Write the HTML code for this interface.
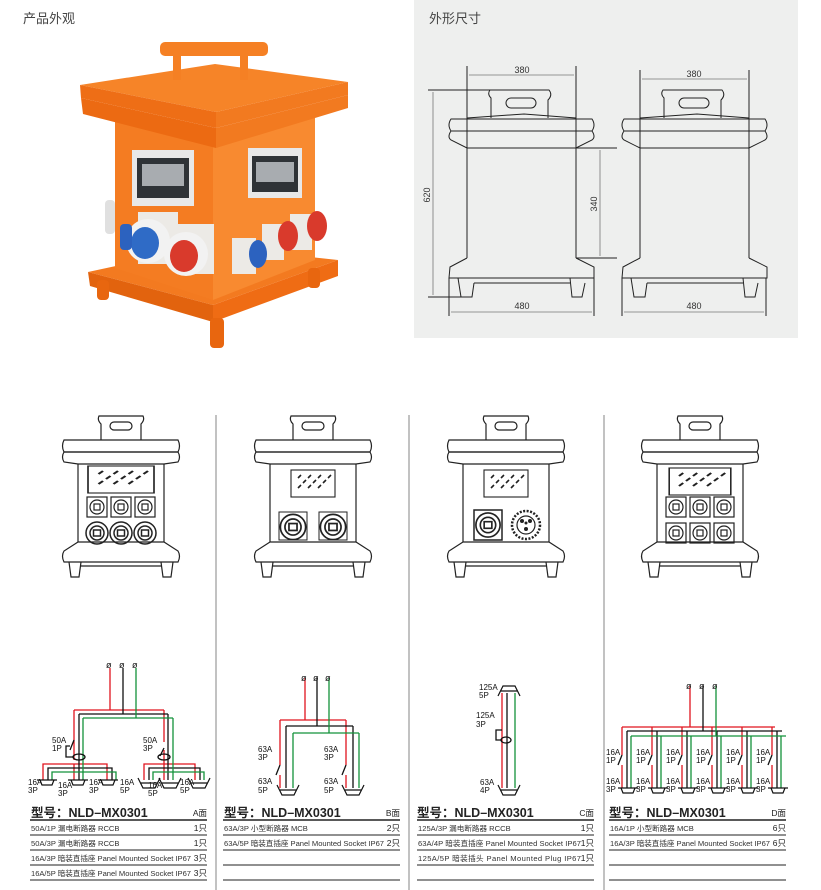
<!DOCTYPE html>
<html><head><meta charset="utf-8">
<style>
html,body{margin:0;padding:0;background:#fff;}
svg{display:block;}
text{font-family:"Liberation Sans","Noto Sans CJK SC",sans-serif;}
</style></head>
<body>
<svg width="821" height="890" viewBox="0 0 821 890" xmlns="http://www.w3.org/2000/svg">
<defs>
  <g id="elev" fill="none" stroke="#222" stroke-width="1.2">
    <path d="M-20,440 L-20,424 Q-24,420 -22,416 L22,416 Q24,420 20,424 L20,440"/>
    <rect x="-11" y="422" width="22" height="8" rx="4"/>
    <path d="M-57,440 L57,440 Q60,446 57,452 L-57,452 Q-60,446 -57,440 Z"/>
    <path d="M-57,452 L57,452 Q60,457 57,462 L43,464 L-43,464 L-57,462 Q-60,457 -57,452 Z"/>
    <path d="M-43,464 L-43,542 M43,464 L43,542"/>
    <path d="M-43,542 L-57,551 Q-60,556 -57,562 L57,562 Q60,556 57,551 L43,542 Z"/>
    <path d="M-52,562 L-50,577 L-42,577 L-40,562 M52,562 L50,577 L42,577 L40,562 M-40,566 L40,566"/>
  </g>
  <g id="win" fill="none" stroke="#222" stroke-width="1.1">
    <rect x="-22" y="0" width="44" height="27"/>
    <path d="M-15,8 l3,-3 M-5,8 l3,-3 M5,8 l3,-3 M15,8 l3,-3 M-15,18 l3,-3 M-5,18 l3,-3 M5,18 l3,-3 M-10,13 l3,-3 M0,13 l3,-3 M10,13 l3,-3" stroke-width="1.6"/>
  </g>
  <g id="sq" fill="none" stroke="#222" stroke-width="1.2">
    <rect x="-10" y="-10" width="20" height="20"/>
    <circle r="7"/><rect x="-3" y="-3" width="6" height="6"/>
  </g>
  <g id="rd" fill="none" stroke="#222" stroke-width="1.5">
    <circle r="11"/><circle r="7"/><rect x="-3.5" y="-3" width="7" height="6"/>
  </g>
  <g id="sk" fill="none" stroke="#111" stroke-width="1.2">
    <path d="M-10,0 L10,0 M-7,0 L-5,5 L5,5 L7,0"/>
  </g>
  <g id="sk5" fill="none" stroke="#111" stroke-width="1.2">
    <path d="M-11,-5 L-6,5 L6,5 L11,-5 M-8,0 L8,0"/>
  </g>
</defs>

<text x="23" y="23" font-size="13" fill="#444">产品外观</text>
<rect x="414" y="0" width="384" height="338" fill="#eeefee"/>
<text x="429" y="23" font-size="13" fill="#444">外形尺寸</text>

<g>
  <polygon points="88,272 208,246 338,260 213,305" fill="#f37a20"/>
  <polygon points="88,272 213,305 213,322 90,286" fill="#e2630e"/>
  <polygon points="213,305 338,260 338,276 213,322" fill="#ef6c14"/>
  <rect x="97" y="280" width="12" height="20" rx="4" fill="#e8660f"/>
  <rect x="210" y="318" width="14" height="30" rx="4" fill="#e8660f"/>
  <rect x="308" y="268" width="12" height="20" rx="4" fill="#e8660f"/>
  <polygon points="115,118 213,140 213,300 115,268" fill="#f47c22"/>
  <polygon points="213,140 315,115 315,260 213,300" fill="#f88a30"/>
  <polygon points="80,85 215,64 348,82 216,112" fill="#f68428"/>
  <polygon points="80,85 216,112 216,128 81,98" fill="#ee6e16"/>
  <polygon points="216,112 348,82 348,95 216,128" fill="#f27a20"/>
  <polygon points="81,98 216,128 216,148 83,114" fill="#ec6a12"/>
  <polygon points="216,128 348,95 348,108 216,148" fill="#f27a20"/>
  <rect x="173" y="52" width="8" height="28" fill="#f58024"/>
  <rect x="240" y="52" width="8" height="28" fill="#f58024"/>
  <rect x="160" y="42" width="108" height="14" rx="5" fill="#f58024"/>
  <rect x="132" y="150" width="62" height="56" fill="#e8e8e8"/>
  <rect x="137" y="158" width="52" height="40" fill="#2f3337"/>
  <rect x="142" y="164" width="42" height="22" fill="#a8acb0"/>
  <rect x="248" y="148" width="54" height="50" fill="#e8e8e8"/>
  <rect x="252" y="156" width="46" height="36" fill="#2f3337"/>
  <rect x="256" y="162" width="38" height="20" fill="#a8acb0"/>
  <rect x="138" y="212" width="40" height="52" fill="#eceae6"/>
  <rect x="178" y="224" width="36" height="50" fill="#eceae6"/>
  <ellipse cx="148" cy="241" rx="22" ry="22" fill="#f2f2f2"/>
  <ellipse cx="145" cy="243" rx="14" ry="16" fill="#2f6bc6"/>
  <rect x="120" y="224" width="12" height="26" rx="4" fill="#2c62bf"/>
  <ellipse cx="186" cy="254" rx="22" ry="22" fill="#f2f2f2"/>
  <ellipse cx="184" cy="256" rx="14" ry="16" fill="#d93a2c"/>
  <rect x="232" y="238" width="24" height="36" fill="#eceae6"/>
  <rect x="262" y="224" width="22" height="36" fill="#eceae6"/>
  <rect x="290" y="214" width="22" height="36" fill="#eceae6"/>
  <ellipse cx="258" cy="254" rx="9" ry="14" fill="#2c62bf"/>
  <ellipse cx="288" cy="236" rx="10" ry="15" fill="#d93a2c"/>
  <ellipse cx="317" cy="226" rx="10" ry="15" fill="#d93a2c"/>
  <rect x="105" y="200" width="10" height="34" rx="4" fill="#e0e0e0"/>
</g>

<g fill="none" stroke="#222" stroke-width="1">
  <g id="dimbox">
    <path d="M491,118 L491,98 Q487,94 490,90 L549,90 Q553,95 548,100 L548,118"/>
    <rect x="506" y="98" width="30" height="10" rx="5"/>
    <path d="M467,118 L524,114 L576,118"/>
    <path d="M451,119 L592,119 Q596,125 592,131 L451,131 Q447,125 451,119 Z"/>
    <path d="M451,131 L592,131 Q596,137 592,140 L576,148 L467,148 L451,140 Q447,137 451,131 Z"/>
    <path d="M467,148 L467,258 M576,148 L576,258"/>
    <path d="M467,258 L450,267 L449,278 L594,278 L594,267 L576,258"/>
    <path d="M458,278 L461,297 L472,297 L474,283 M570,278 L572,297 L582,297 L585,283 M474,283 L570,283"/>
  </g>
  <use href="#dimbox" transform="translate(173,0)"/>
  <path d="M467,66 L467,148 M576,66 L576,148 M640,70 L640,150 M749,70 L749,150"/>
  <path d="M428,90 L491,90 M428,297 L461,297 M576,148 L617,148 M576,258 L617,258 M449,278 L449,316 M594,278 L594,316 M622,278 L622,316 M766,278 L766,316"/>
</g>
<g stroke="#777" stroke-width="0.8" fill="#777">
  <path d="M469,75 L574,75 M642,79 L747,79 M433,92 L433,295 M600,150 L600,256 M451,312 L592,312 M624,312 L764,312"/>
</g>
<g font-size="9" fill="#333" text-anchor="middle">
  <text x="522" y="73">380</text>
  <text x="694" y="77">380</text>
  <text x="522" y="309">480</text>
  <text x="694" y="309">480</text>
  <text transform="translate(430,195) rotate(-90)">620</text>
  <text transform="translate(597,204) rotate(-90)">340</text>
</g>

<g stroke="#999" stroke-width="1.2">
  <path d="M216,415 L216,890 M409,415 L409,890 M604,415 L604,890"/>
</g>

<use href="#elev" transform="translate(121,0)"/>
<use href="#win" transform="translate(121,466) scale(1.5,1)"/>
<use href="#sq" transform="translate(97,507)"/><use href="#sq" transform="translate(121,507)"/><use href="#sq" transform="translate(145,507)"/>
<use href="#rd" transform="translate(97,533)"/><use href="#rd" transform="translate(121,533)"/><use href="#rd" transform="translate(145,533)"/>

<use href="#elev" transform="translate(313,0)"/>
<use href="#win" transform="translate(313,470)"/>
<use href="#rd" transform="translate(293,527) scale(1.15)"/><use href="#rd" transform="translate(333,527) scale(1.15)"/>
<rect x="279" y="512" width="28" height="28" fill="none" stroke="#222"/>
<rect x="319" y="512" width="28" height="28" fill="none" stroke="#222"/>

<use href="#elev" transform="translate(506,0)"/>
<use href="#win" transform="translate(506,470)"/>
<rect x="474" y="510" width="28" height="30" fill="#fff" stroke="#222" stroke-width="1.5"/>
<use href="#rd" transform="translate(488,525) scale(1.1)"/>
<circle cx="526" cy="525" r="14" fill="none" stroke="#222" stroke-width="2.5" stroke-dasharray="2,1.5"/>
<circle cx="526" cy="525" r="9" fill="none" stroke="#222" stroke-width="1.2"/>
<circle cx="522" cy="521" r="2" fill="#222"/><circle cx="530" cy="521" r="2" fill="#222"/><circle cx="526" cy="529" r="2" fill="#222"/><circle cx="526" cy="523" r="1.5" fill="#222"/>

<use href="#elev" transform="translate(700,0)"/>
<use href="#win" transform="translate(700,468) scale(1.4,1)"/>
<use href="#sq" transform="translate(676,507)"/><use href="#sq" transform="translate(700,507)"/><use href="#sq" transform="translate(724,507)"/>
<use href="#sq" transform="translate(676,533)"/><use href="#sq" transform="translate(700,533)"/><use href="#sq" transform="translate(724,533)"/>

<g fill="none" stroke-width="1.3">
  <path stroke="#e0141e" d="M110,668 L110,710 M74,710 L164,710 M74,710 L74,760 M164,710 L164,742 M164,750 L164,780 M43,780 L43,764 L107,764 L107,780 M144,780 L144,764 L195,764 L195,780 M74,764 L74,780 M164,764 L164,780"/>
  <path stroke="#111" d="M123,668 L123,714 M79,714 L168,714 M79,714 L79,780 M168,714 L168,780 M48,780 L48,768 L112,768 L112,780 M149,780 L149,768 L200,768 L200,780"/>
  <path stroke="#13923a" d="M136,668 L136,718 M83,718 L173,718 M83,718 L83,780 M173,718 L173,780 M52,780 L52,772 L116,772 L116,780 M153,780 L153,772 L204,772 L204,780"/>
  <path stroke="#111" d="M74,740 L70,750 M70,746 L66,746 L66,757 L74,757 M164,748 L160,756"/>
  <ellipse cx="79" cy="757" rx="6" ry="3" stroke="#111"/>
  <ellipse cx="164" cy="757" rx="6" ry="3" stroke="#111"/>
</g>
<g font-size="9" fill="#111"><text x="106" y="668">ø</text><text x="119" y="668">ø</text><text x="132" y="668">ø</text></g>
<use href="#sk" transform="translate(47,780)"/><use href="#sk" transform="translate(78,780)"/><use href="#sk" transform="translate(108,780)"/>
<use href="#sk5" transform="translate(149,783)"/><use href="#sk5" transform="translate(170,783)"/><use href="#sk5" transform="translate(199,783)"/>
<g font-size="8" fill="#111">
  <text x="52" y="743">50A</text><text x="52" y="751">1P</text>
  <text x="143" y="743">50A</text><text x="143" y="751">3P</text>
  <text x="28" y="785">16A</text><text x="28" y="793">3P</text>
  <text x="58" y="788">16A</text><text x="58" y="796">3P</text>
  <text x="89" y="785">16A</text><text x="89" y="793">3P</text>
  <text x="120" y="785">16A</text><text x="120" y="793">5P</text>
  <text x="148" y="788">16A</text><text x="148" y="796">5P</text>
  <text x="180" y="785">16A</text><text x="180" y="793">5P</text>
</g>

<g fill="none" stroke-width="1.3">
  <path stroke="#e0141e" d="M305,678 L305,720 M280,720 L346,720 M280,720 L280,765 M280,775 L280,788 M346,720 L346,765 M346,775 L346,788"/>
  <path stroke="#111" d="M317,678 L317,726 M286,726 L353,726 M286,726 L286,788 M353,726 L353,788"/>
  <path stroke="#13923a" d="M329,678 L329,733 M293,733 L359,733 M293,733 L293,788 M359,733 L359,788"/>
  <path stroke="#111" d="M280,765 L276,775 M346,765 L342,775"/>
</g>
<g font-size="9" fill="#111"><text x="301" y="681">ø</text><text x="313" y="681">ø</text><text x="325" y="681">ø</text></g>
<use href="#sk5" transform="translate(288,790)"/><use href="#sk5" transform="translate(353,790)"/>
<g font-size="8" fill="#111">
  <text x="258" y="752">63A</text><text x="258" y="760">3P</text>
  <text x="324" y="752">63A</text><text x="324" y="760">3P</text>
  <text x="258" y="784">63A</text><text x="258" y="793">5P</text>
  <text x="324" y="784">63A</text><text x="324" y="793">5P</text>
</g>

<g fill="none" stroke-width="1.3">
  <path stroke="#e0141e" d="M502,693 L502,788"/>
  <path stroke="#111" d="M507,693 L507,788"/>
  <path stroke="#13923a" d="M515,693 L515,788"/>
  <path stroke="#111" d="M502,730 L496,730 L496,740 L502,740"/>
  <ellipse cx="506" cy="740" rx="5" ry="3" stroke="#111"/>
</g>
<use href="#sk5" transform="translate(509,691) scale(1,-1)"/>
<use href="#sk5" transform="translate(509,790)"/>
<g font-size="8" fill="#111">
  <text x="479" y="690">125A</text><text x="479" y="698">5P</text>
  <text x="476" y="718">125A</text><text x="476" y="727">3P</text>
  <text x="480" y="785">63A</text><text x="480" y="793">4P</text>
</g>

<g fill="none" stroke-width="1.3">
  <path stroke="#e0141e" d="M690,686 L690,727 M622,727 L775,727 M622,727 L622,755 M652,727 L652,755 M682,727 L682,755 M712,727 L712,755 M742,727 L742,755 M772,727 L772,755 M622,765 L622,788 M652,765 L652,788 M682,765 L682,788 M712,765 L712,788 M742,765 L742,788 M772,765 L772,788"/>
  <path stroke="#111" d="M703,686 L703,731 M627,731 L782,731 M627,731 L627,788 M657,731 L657,788 M687,731 L687,788 M717,731 L717,788 M747,731 L747,788 M777,731 L777,788"/>
  <path stroke="#13923a" d="M716,686 L716,736 M631,736 L786,736 M631,736 L631,788 M661,736 L661,788 M691,736 L691,788 M721,736 L721,788 M751,736 L751,788 M781,736 L781,788"/>
  <path stroke="#111" d="M622,755 L618,765 M652,755 L648,765 M682,755 L678,765 M712,755 L708,765 M742,755 L738,765 M772,755 L768,765"/>
</g>
<g font-size="9" fill="#111"><text x="686" y="689">ø</text><text x="699" y="689">ø</text><text x="712" y="689">ø</text></g>
<use href="#sk" transform="translate(628,788)"/><use href="#sk" transform="translate(658,788)"/><use href="#sk" transform="translate(688,788)"/>
<use href="#sk" transform="translate(718,788)"/><use href="#sk" transform="translate(748,788)"/><use href="#sk" transform="translate(778,788)"/>
<g font-size="8" fill="#111">
  <text x="606" y="755">16A</text><text x="606" y="763">1P</text>
  <text x="636" y="755">16A</text><text x="636" y="763">1P</text>
  <text x="666" y="755">16A</text><text x="666" y="763">1P</text>
  <text x="696" y="755">16A</text><text x="696" y="763">1P</text>
  <text x="726" y="755">16A</text><text x="726" y="763">1P</text>
  <text x="756" y="755">16A</text><text x="756" y="763">1P</text>
  <text x="606" y="784">16A</text><text x="606" y="792">3P</text>
  <text x="636" y="784">16A</text><text x="636" y="792">3P</text>
  <text x="666" y="784">16A</text><text x="666" y="792">3P</text>
  <text x="696" y="784">16A</text><text x="696" y="792">3P</text>
  <text x="726" y="784">16A</text><text x="726" y="792">3P</text>
  <text x="756" y="784">16A</text><text x="756" y="792">3P</text>
</g>

<g stroke="#222">
  <path d="M30,820 L207,820 M223,820 L400,820 M417,820 L594,820 M609,820 L786,820" stroke-width="1.5"/>
  <path d="M30,835 L207,835 M30,850 L207,850 M30,865 L207,865 M30,880 L207,880
           M223,835 L400,835 M223,850 L400,850 M223,865 L400,865 M223,880 L400,880
           M417,835 L594,835 M417,850 L594,850 M417,865 L594,865 M417,880 L594,880
           M609,835 L786,835 M609,850 L786,850 M609,865 L786,865 M609,880 L786,880" stroke-width="1"/>
</g>
<g font-size="12.5" fill="#222" font-weight="bold">
  <text x="31" y="817">型号：NLD–MX0301</text>
  <text x="224" y="817">型号：NLD–MX0301</text>
  <text x="417" y="817">型号：NLD–MX0301</text>
  <text x="609" y="817">型号：NLD–MX0301</text>
</g>
<g font-size="8.5" fill="#222" text-anchor="end">
  <text x="207" y="816">A面</text><text x="400" y="816">B面</text><text x="594" y="816">C面</text><text x="786" y="816">D面</text>
  <text x="207" y="831">1只</text><text x="207" y="846">1只</text><text x="207" y="861">3只</text><text x="207" y="876">3只</text>
  <text x="400" y="831">2只</text><text x="400" y="846">2只</text>
  <text x="594" y="831">1只</text><text x="594" y="846">1只</text><text x="594" y="861">1只</text>
  <text x="786" y="831">6只</text><text x="786" y="846">6只</text>
</g>
<g font-size="7.6" fill="#333">
  <text x="31" y="831">50A/1P 漏电断路器 RCCB</text>
  <text x="31" y="846">50A/3P 漏电断路器 RCCB</text>
  <text x="31" y="861" textLength="160">16A/3P 暗装直插座 Panel Mounted Socket IP67</text>
  <text x="31" y="876" textLength="160">16A/5P 暗装直插座 Panel Mounted Socket IP67</text>
  <text x="224" y="831">63A/3P 小型断路器 MCB</text>
  <text x="224" y="846" textLength="160">63A/5P 暗装直插座 Panel Mounted Socket IP67</text>
  <text x="418" y="831">125A/3P 漏电断路器 RCCB</text>
  <text x="418" y="846" textLength="163">63A/4P 暗装直插座 Panel Mounted Socket IP67</text>
  <text x="418" y="861" textLength="163">125A/5P 暗装插头 Panel Mounted Plug   IP67</text>
  <text x="610" y="831">16A/1P 小型断路器 MCB</text>
  <text x="610" y="846" textLength="160">16A/3P 暗装直插座 Panel Mounted Socket IP67</text>
</g>
</svg>
</body></html>
